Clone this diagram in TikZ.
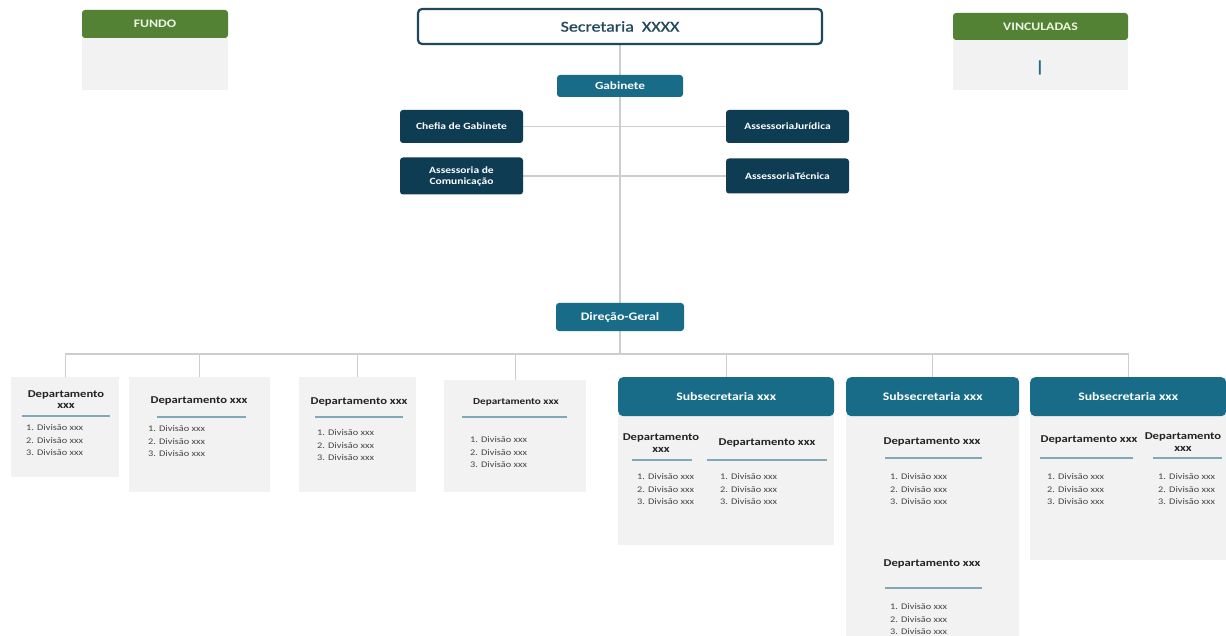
\documentclass[tikz,border=0pt]{standalone}
\usepackage{fontspec}
\setmainfont{Carlito}[FakeStretch=1.2]
\usetikzlibrary{backgrounds}
\definecolor{green1}{RGB}{84,130,53}
\definecolor{greentxt}{RGB}{236,244,228}
\definecolor{teal1}{RGB}{24,108,136}
\definecolor{navy}{RGB}{14,60,82}
\definecolor{secb}{RGB}{32,72,92}
\definecolor{bodyg}{RGB}{242,242,242}
\definecolor{lineg}{RGB}{205,205,205}
\definecolor{ulcol}{RGB}{125,170,182}
\definecolor{txtdark}{RGB}{35,35,35}
\definecolor{txtgrey}{RGB}{70,70,70}
\newcommand{\divlist}{1. Divisão xxx\\2. Divisão xxx\\3. Divisão xxx}
\tikzset{
  conn/.style={draw=lineg, line width=1.2pt},
  greyb/.style={fill=bodyg, draw=none, anchor=north west, inner sep=0pt},
  tealhead/.style={fill=teal1, rounded corners=5pt, anchor=north west, text=white, inner sep=0pt, minimum height=39pt, font=\bfseries\fontsize{11.5}{13}\selectfont},
  greenhead/.style={fill=green1, rounded corners=3pt, text=greentxt, inner sep=0pt, font=\bfseries\fontsize{11.5}{13}\selectfont},
  navybox/.style={fill=navy, rounded corners=3pt, text=white, align=center, inner sep=0pt, minimum width=123pt, font=\bfseries\fontsize{9.6}{11}\selectfont},
  tealbox/.style={fill=teal1, rounded corners=3pt, text=white, inner sep=0pt, font=\bfseries\fontsize{11.5}{13}\selectfont},
  depttitle/.style={font=\bfseries\fontsize{10.5}{11.5}\selectfont, text=txtdark, align=center, inner sep=0pt},
  items/.style={font=\fontsize{8.6}{12.5}\selectfont, text=txtgrey, align=left, anchor=north west, inner sep=0pt},
  uline/.style={draw=ulcol, line width=1.8pt},
}
\begin{document}
\begin{tikzpicture}[x=1pt,y=-1pt]
\useasboundingbox (0,0) rectangle (1226,636);
% top
\node[draw=secb, line width=2.2pt, fill=white, rounded corners=4pt, minimum width=404pt, minimum height=35pt, inner sep=0pt, text=secb, font=\fontsize{15}{17}\selectfont\addfontfeature{FakeBold=0.8}] (sec) at (620,26.5) {Secretaria~ XXXX};
\node[greyb, minimum width=146pt, minimum height=52pt] (fundob) at (82,38) {};
\node[greenhead, minimum width=146pt, minimum height=28pt] (fundo) at (155,24) {FUNDO};
\node[greyb, minimum width=175pt, minimum height=50pt] (vincb) at (953,40) {};
\node[greenhead, minimum width=175pt, minimum height=27pt] (vinc) at (1040.5,26.5) {VINCULADAS};
\node[text=teal1, inner sep=0pt, font=\bfseries\fontsize{16}{18}\selectfont] (bar) at (1040,68) {|};
% gabinete
\node[tealbox, minimum width=126pt, minimum height=22pt, font=\bfseries\fontsize{11}{13}\selectfont] (gab) at (620,86) {Gabinete};
\node[navybox, minimum height=33pt] (chefia) at (461.5,126.5) {Chefia de Gabinete};
\node[navybox, minimum height=37pt] (com) at (461.5,176) {Assessoria de\\Comunicação};
\node[navybox, minimum height=33pt] (jur) at (787.5,126.5) {AssessoriaJurídica};
\node[navybox, minimum height=35pt] (tec) at (787.5,176) {AssessoriaTécnica};
\node[tealbox, minimum width=128pt, minimum height=28pt] (dg) at (620,317) {Direção-Geral};
\coordinate (bus) at (620,354);
% departments
\node[greyb, minimum width=108pt, minimum height=100pt] (d1) at (11,377) {};
\node[greyb, minimum width=141pt, minimum height=115pt] (d2) at (129,377) {};
\node[greyb, minimum width=117pt, minimum height=115pt] (d3) at (299,377) {};
\node[greyb, minimum width=142pt, minimum height=112pt] (d4) at (444,380) {};
\node[greyb, minimum width=216pt, minimum height=168pt] (s1) at (618,377) {};
\node[greyb, minimum width=173pt, minimum height=259pt] (s2) at (846,377) {};
\node[greyb, minimum width=196pt, minimum height=183pt] (s3) at (1030,377) {};
\node[tealhead, minimum width=216pt] (s1h) at (618,377) {Subsecretaria xxx};
\node[tealhead, minimum width=173pt] (s2h) at (846,377) {Subsecretaria xxx};
\node[tealhead, minimum width=196pt] (s3h) at (1030,377) {Subsecretaria xxx};
% department contents
\node[depttitle] (t1) at (66,399.5) {Departamento\\xxx};
\draw[uline] (22,416) -- (110,416);
\node[items] (i1) at (26,424.5) {\divlist};
\node[depttitle] (t2) at (199,401) {Departamento xxx};
\draw[uline] (157,417) -- (246,417);
\node[items] (i2) at (148,425.5) {\divlist};
\node[depttitle] (t3) at (359,402) {Departamento xxx};
\draw[uline] (315,417) -- (403,417);
\node[items] (i3) at (317,429.5) {\divlist};
\node[depttitle, font=\bfseries\fontsize{9.3}{11}\selectfont] (t4) at (516,402) {Departamento xxx};
\draw[uline] (462,417) -- (567,417);
\node[items] (i4) at (470,436.5) {\divlist};
% subsecretaria 1
\node[depttitle] (t5) at (661,443) {Departamento\\xxx};
\draw[uline] (632,460) -- (692,460);
\node[items] (i5) at (637,473.5) {\divlist};
\node[depttitle] (t6) at (767,443) {Departamento xxx};
\draw[uline] (707,460) -- (827,460);
\node[items] (i6) at (720,473.5) {\divlist};
% subsecretaria 2
\node[depttitle] (t7) at (932,442) {Departamento xxx};
\draw[uline] (885,458) -- (982,458);
\node[items] (i7) at (890,473.5) {\divlist};
\node[depttitle] (t8) at (932,564) {Departamento xxx};
\draw[uline] (885,588) -- (982,588);
\node[items] (i8) at (890,603.5) {\divlist};
% subsecretaria 3
\node[depttitle] (t9) at (1089,440) {Departamento xxx};
\draw[uline] (1040,458) -- (1133,458);
\node[items] (i9) at (1047,473.5) {\divlist};
\node[depttitle] (t10) at (1183,442) {Departamento\\xxx};
\draw[uline] (1153,458) -- (1222,458);
\node[items] (i10) at (1158,473.5) {\divlist};
% connectors
\begin{pgfonlayer}{background}
\fill[white] (0,0) rectangle (1226,636);
\draw[conn] (sec.south) -- (dg.north);
\draw[conn] (chefia.east) -- (jur.west);
\draw[conn] (com.east) -- (tec.west);
\draw[conn] (dg.south) -- (bus);
\draw[conn] (d1.north) |- (bus) -| (s3h.north);
\foreach \n in {d2,d3,d4,s1h,s2h} {\draw[conn] (\n.north) -- (\n.north |- bus);}
\end{pgfonlayer}
\end{tikzpicture}
\end{document}
